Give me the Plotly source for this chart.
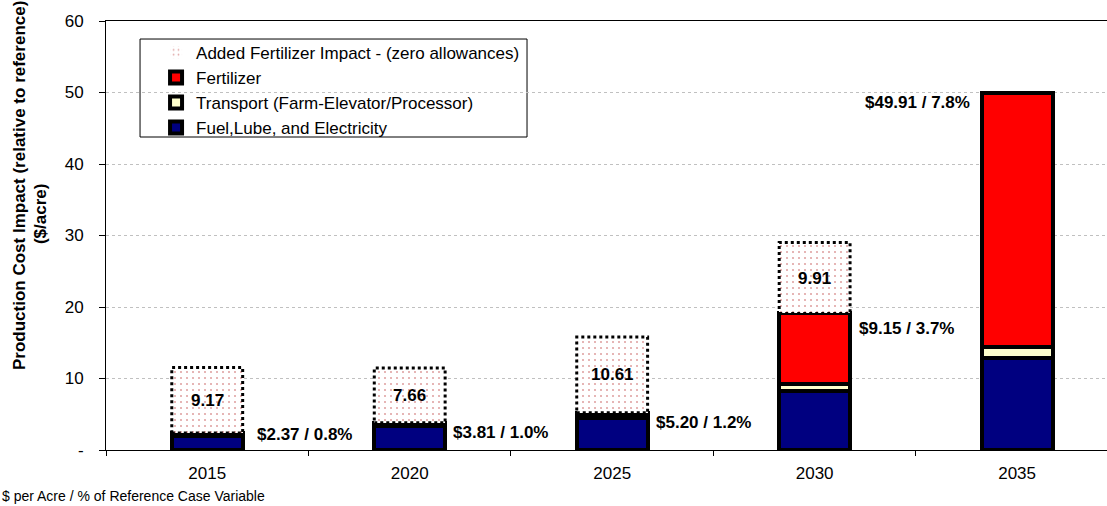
import plotly.graph_objects as go

years = ["2015", "2020", "2025", "2030", "2035"]
fuel = [2.0, 3.3, 4.5, 8.2, 12.9]
transport = [0.2, 0.3, 0.4, 1.0, 1.5]
fertilizer = [0.17, 0.21, 0.30, 9.9, 35.51]
added = [9.17, 7.66, 10.61, 9.91, 0.0]
added_labels = ["9.17", "7.66", "10.61", "9.91", ""]
cost_labels = ["$2.37 / 0.8%", "$3.81 / 1.0%", "$5.20 / 1.2%", "$9.15 / 3.7%", "$49.91 / 7.8%"]
y_ticks = [0, 10, 20, 30, 40, 50, 60]
y_ticktext = ["-", "10", "20", "30", "40", "50", "60"]

FONT = "Arial, 'Liberation Sans', sans-serif"
BW = 0.35

fig = go.Figure()
line = dict(color="black", width=4)
fig.add_trace(go.Bar(x=years, y=fuel, name="Fuel,Lube, and Electricity", width=BW,
                     marker=dict(color="#000080", line=line)))
fig.add_trace(go.Bar(x=years, y=transport, name="Transport (Farm-Elevator/Processor)", width=BW,
                     marker=dict(color="#FFFFCC", line=line)))
fig.add_trace(go.Bar(x=years, y=fertilizer, name="Fertilizer", width=BW,
                     marker=dict(color="#FF0000", line=line)))
fig.add_trace(go.Bar(x=years, y=added, name="Added Fertilizer Impact - (zero allowances)", width=BW,
                     marker=dict(color="white", line=dict(width=0),
                                 pattern=dict(shape=".", fgcolor="#C04848", bgcolor="white",
                                              size=6, solidity=0.1))))

totals = [f + t + z for f, t, z in zip(fuel, transport, fertilizer)]

shapes = []
annotations = []
# dotted outlines + labels for the added impact
for i, (base, a, lab) in enumerate(zip(totals, added, added_labels)):
    if a <= 0:
        continue
    shapes.append(dict(type="rect", xref="x", yref="y", x0=i - BW / 2, x1=i + BW / 2,
                       y0=base, y1=base + a, line=dict(color="black", width=3, dash="dot"),
                       layer="above"))
    annotations.append(dict(xref="x", yref="y", x=i, y=base + a / 2,
                            text="<b>%s</b>" % lab, showarrow=False,
                            xanchor="center", yanchor="middle",
                            font=dict(family=FONT, size=17, color="black")))

# cost labels
xshifts = [12, 6, 6, 7, -10]
yshifts = [-1, -10, -10, -15, -9]
for i, (tot, lab) in enumerate(zip(totals, cost_labels)):
    right = i < len(years) - 1
    annotations.append(dict(xref="x", yref="y",
                            x=i + BW / 2 if right else i - BW / 2, y=tot,
                            xanchor="left" if right else "right", yanchor="middle",
                            xshift=xshifts[i], yshift=yshifts[i],
                            text="<b>%s</b>" % lab, showarrow=False,
                            font=dict(family=FONT, size=17, color="black")))

# y-axis title (two lines, as in the original)
annotations.append(dict(xref="paper", yref="paper", x=-0.0859, y=0.6154, textangle=-90,
                        text="<b>Production Cost Impact (relative to reference)</b>",
                        showarrow=False, xanchor="center", yanchor="middle",
                        font=dict(family=FONT, size=17, color="black")))
annotations.append(dict(xref="paper", yref="paper", x=-0.0659, y=0.550, textangle=-90,
                        text="<b>($/acre)</b>", showarrow=False, xanchor="center", yanchor="middle",
                        font=dict(family=FONT, size=17, color="black")))
# footnote
annotations.append(dict(xref="paper", yref="paper", x=-0.1059, y=-0.1072,
                        text="$ per Acre / % of Reference Case Variable", showarrow=False,
                        xanchor="left", yanchor="middle",
                        font=dict(family=FONT, size=14, color="black")))

# legend box
shapes.append(dict(type="rect", xref="paper", yref="paper", x0=0.034, x1=0.4206,
                   y0=0.7296, y1=0.958, line=dict(color="black", width=1),
                   fillcolor="white", layer="between"))

fig.update_layout(
    width=1107, height=506,
    margin=dict(l=106, r=0, t=21, b=56),
    barmode="stack", bargap=0.5,
    plot_bgcolor="white", paper_bgcolor="white",
    font=dict(family=FONT, size=17, color="black"),
    showlegend=True,
    legend=dict(x=0.05, y=0.968, xanchor="left", yanchor="top", traceorder="reversed",
                bgcolor="rgba(0,0,0,0)", borderwidth=0, font=dict(family=FONT, size=17)),
    shapes=shapes, annotations=annotations,
    xaxis=dict(type="category", range=[-0.5, 4.444], showline=True, linecolor="black",
               linewidth=1, mirror=True, ticks="outside", tickson="boundaries", ticklen=5,
               tickcolor="black", showgrid=False, ticklabelstandoff=8,
               tickfont=dict(family=FONT, size=17)),
    yaxis=dict(range=[0, 60], tickvals=y_ticks, ticktext=y_ticktext, showline=True,
               linecolor="black", linewidth=1, ticks="outside", ticklen=6, tickcolor="black",
               showgrid=True, gridcolor="#C0C0C0", griddash="dot", gridwidth=1,
               zeroline=False, ticklabelstandoff=12, tickfont=dict(family=FONT, size=17)),
)

fig.write_html("out.html")
